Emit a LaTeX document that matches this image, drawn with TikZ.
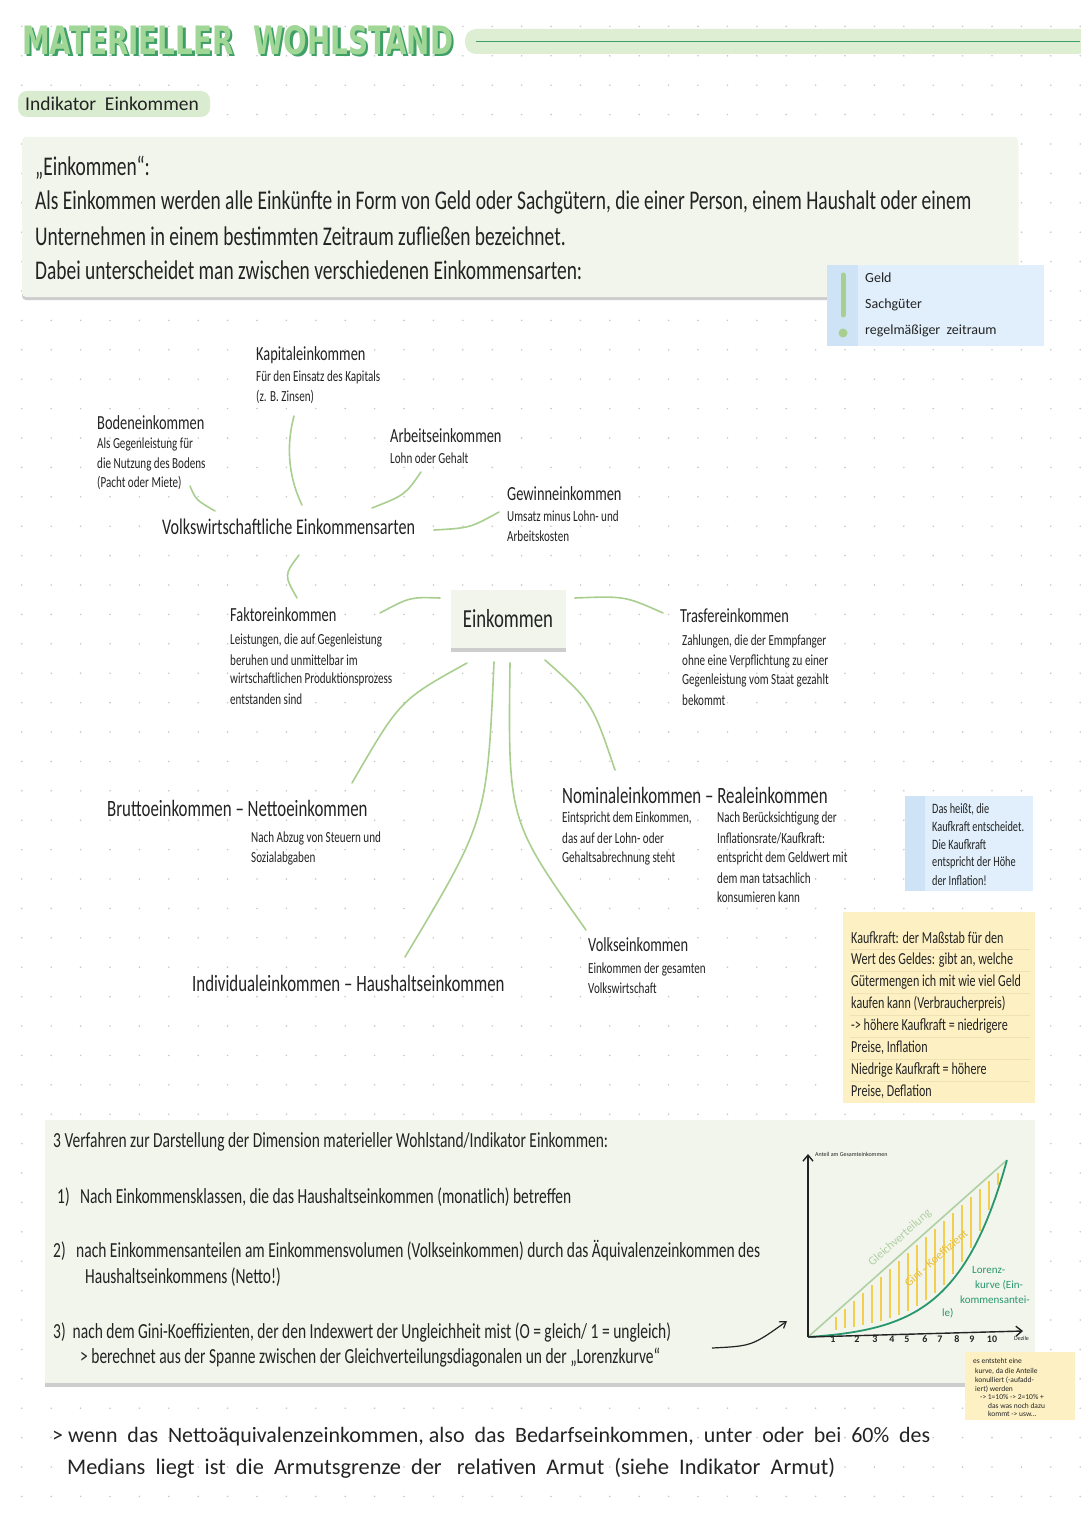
\documentclass[tikz,border=0pt]{standalone}
\usepackage{fontspec}
\usepackage{graphicx}
\setmainfont{Carlito}[FakeStretch=0.72]
\newfontfamily\plain{Carlito}
\newfontfamily\titlef{DejaVu Sans}[FakeStretch=0.8]
\usetikzlibrary{arrows.meta}
\definecolor{ink}{RGB}{35,35,35}
\definecolor{lgreen}{RGB}{169,207,143}
\definecolor{boxbg}{RGB}{242,245,236}
\definecolor{shadowc}{RGB}{205,205,205}
\definecolor{bluebg}{RGB}{224,239,251}
\definecolor{bluestrip}{RGB}{206,228,246}
\definecolor{yellowbg}{RGB}{253,241,196}
\definecolor{yellowline}{RGB}{240,226,178}
\definecolor{titlelight}{RGB}{160,214,150}
\definecolor{titledark}{RGB}{62,160,102}
\definecolor{bandc}{RGB}{221,238,211}
\definecolor{pillc}{RGB}{218,236,208}
\definecolor{lorenzc}{RGB}{40,150,110}
\definecolor{gleichc}{RGB}{176,208,164}
\definecolor{hatchc}{RGB}{244,206,80}
\definecolor{ginic}{RGB}{232,190,60}
\definecolor{dotc}{RGB}{200,200,200}
\newcommand\fsz[1]{\fontsize{#1}{#1}\selectfont}
\begin{document}
\begin{tikzpicture}[x=1pt,y=-1pt,
  lbl/.style={anchor=west, inner sep=0, text=ink},
  deftext/.style={lbl, font=\fsz{27}},
  head/.style={lbl, font=\fsz{20}},
  pairhead/.style={lbl, font=\fsz{23.4}},
  sub/.style={lbl, font=\fsz{15.4}},
  bnote/.style={lbl, font=\fsz{14.3}},
  ynote/.style={lbl, font=\fsz{16.8}},
  boxtext/.style={lbl, font=\fsz{21.5}},
  tiny/.style={lbl, font=\plain\fsz{7.5}},
  lzlab/.style={lbl, text=lorenzc, font=\plain\fsz{11}},
  con/.style={draw=lgreen, line width=1.6pt, line cap=round},
  declare function={lor(\t)=(exp(4*\t)-1)/(exp(4)-1);},
]
\useasboundingbox (0,0) rectangle (1080,1525);
\fill[white] (0,0) rectangle (1080,1525);
% dotted grid
\foreach \i in {0,...,36}{\foreach \j in {0,...,51}{\fill[dotc] (21.8+\i*29.4, 26.4+\j*29.4) circle (0.9);}}

% title
\fill[bandc, rounded corners=11] (465,29) rectangle (1095,54);
\draw[titledark, line width=1.6pt] (476,41.5) -- (1080,41.5);
\node[inner sep=0, anchor=west, text=titledark] (titleshadow) at (24.5,42.5) {\resizebox{431pt}{29pt}{\titlef\bfseries MATERIELLER\ \ WOHLSTAND}};
\node[inner sep=0, anchor=west, text=titlelight] (title) at (22,40) {\resizebox{431pt}{29pt}{\titlef\bfseries MATERIELLER\ \ WOHLSTAND}};

% pill
\fill[pillc, rounded corners=9] (18,91) rectangle (210,117);
\node[lbl, font=\plain\fsz{19.5}] (pill) at (25,104) {Indikator\ \ Einkommen};

% definition box
\fill[shadowc, rounded corners=4] (22,141) rectangle (1018,300);
\fill[boxbg, rounded corners=4] (22,137) rectangle (1018,297);
\node[deftext] (d1) at (35,168) {„Einkommen“:};
\node[deftext] (d2) at (35,202) {Als Einkommen werden alle Einkünfte in Form von Geld oder Sachgütern, die einer Person, einem Haushalt oder einem};
\node[deftext] (d3) at (35,236) {Unternehmen in einem bestimmten Zeitraum zufließen bezeichnet.};
\node[deftext] (d4) at (35,270) {Dabei unterscheidet man zwischen verschiedenen Einkommensarten:};

% legend box
\fill[bluebg] (827,265) rectangle (1044,346);
\fill[bluestrip] (827,265) rectangle (858,346);
\draw[lgreen, line width=5pt, line cap=round] (843,275) -- (843,315);
\fill[lgreen] (843,333) circle (4.5);
\node[lbl, font=\plain\fsz{14}] (lg1) at (865,278) {Geld};
\node[lbl, font=\plain\fsz{14}] (lg2) at (865,305) {Sachgüter};
\node[lbl, font=\plain\fsz{14}] (lg3) at (865,331) {regelmäßiger\ \ zeitraum};

% mind map upper
\node[head] (kap) at (256,355) {Kapitaleinkommen};
\node[sub] (kap1) at (256,377) {Für den Einsatz des Kapitals};
\node[sub] (kap2) at (256,397) {(z. B. Zinsen)};
\node[head] (bod) at (97,423) {Bodeneinkommen};
\node[sub] (bod1) at (97,444) {Als Gegenleistung für};
\node[sub] (bod2) at (97,464) {die Nutzung des Bodens};
\node[sub] (bod3) at (97,483) {(Pacht oder Miete)};
\node[head] (arb) at (390,436) {Arbeitseinkommen};
\node[sub] (arb1) at (390,458) {Lohn oder Gehalt};
\node[head] (gew) at (507,494) {Gewinneinkommen};
\node[sub] (gew1) at (507,516) {Umsatz minus Lohn- und};
\node[sub] (gew2) at (507,536) {Arbeitskosten};
\node[lbl, font=\fsz{22.4}] (vw) at (162,527) {Volkswirtschaftliche Einkommensarten};

% Faktor
\node[head] (fak) at (230,615) {Faktoreinkommen};
\node[sub] (fak1) at (230,640) {Leistungen, die auf Gegenleistung};
\node[sub] (fak2) at (230,660) {beruhen und unmittelbar im};
\node[sub] (fak3) at (230,679) {wirtschaftlichen Produktionsprozess};
\node[sub] (fak4) at (230,699) {entstanden sind};

% center
\fill[shadowc] (451,594) rectangle (566,652);
\fill[boxbg] (451,590) rectangle (566,648);
\node[inner sep=0, text=ink, font=\fsz{26}] (ein) at (508,619) {Einkommen};

% Transfer
\node[head] (tra) at (680,616) {Trasfereinkommen};
\node[sub] (tra1) at (682,641) {Zahlungen, die der Emmpfanger};
\node[sub] (tra2) at (682,661) {ohne eine Verpflichtung zu einer};
\node[sub] (tra3) at (682,680) {Gegenleistung vom Staat gezahlt};
\node[sub] (tra4) at (682,700) {bekommt};

% lower
\node[pairhead] (bru) at (107,808) {Bruttoeinkommen – Nettoeinkommen};
\node[sub] (bru1) at (251,838) {Nach Abzug von Steuern und};
\node[sub] (bru2) at (251,858) {Sozialabgaben};
\node[pairhead] (nom) at (562,795) {Nominaleinkommen – Realeinkommen};
\node[sub] (nom1) at (562,818) {Eintspricht dem Einkommen,};
\node[sub] (nom2) at (562,838) {das auf der Lohn- oder};
\node[sub] (nom3) at (562,858) {Gehaltsabrechnung steht};
\node[sub] (rea1) at (717,818) {Nach Berücksichtigung der};
\node[sub] (rea2) at (717,838) {Inflationsrate/Kaufkraft:};
\node[sub] (rea3) at (717,858) {entspricht dem Geldwert mit};
\node[sub] (rea4) at (717,878) {dem man tatsachlich};
\node[sub] (rea5) at (717,897) {konsumieren kann};
\node[head] (vol) at (588,945) {Volkseinkommen};
\node[sub] (vol1) at (588,969) {Einkommen der gesamten};
\node[sub] (vol2) at (588,988) {Volkswirtschaft};
\node[pairhead] (ind) at (192,983) {Individualeinkommen – Haushaltseinkommen};

% connectors
\coordinate (b1) at (190,486); \coordinate (b2) at (215,511);
\coordinate (k1) at (294,416); \coordinate (k2) at (302,505);
\coordinate (a1) at (421,472); \coordinate (a2) at (372,508);
\coordinate (g1) at (499,512); \coordinate (g2) at (434,530);
\coordinate (v1) at (299,555); \coordinate (v2) at (297,598);
\coordinate (f1) at (380,613); \coordinate (f2) at (440,598);
\coordinate (t1) at (575,598); \coordinate (t2) at (663,613);
\coordinate (br1) at (467,663); \coordinate (br2) at (352,783);
\coordinate (i1) at (494,662); \coordinate (i2) at (405,957);
\coordinate (vo1) at (510,663); \coordinate (vo2) at (586,930);
\coordinate (n1) at (545,660); \coordinate (n2) at (615,770);
\draw[con] (b1) .. controls (196,500) .. (b2);
\draw[con] (k1) .. controls (285,450) and (290,480) .. (k2);
\draw[con] (a1) .. controls (405,495) .. (a2);
\draw[con] (g1) .. controls (470,528) .. (g2);
\draw[con] (v1) .. controls (284,575) .. (v2);
\draw[con] (f1) .. controls (410,597) .. (f2);
\draw[con] (t1) .. controls (625,596) .. (t2);
\draw[con] (br1) .. controls (400,700) .. (br2);
\draw[con] (i1) .. controls (487,820) .. (i2);
\draw[con] (vo1) .. controls (508,820) .. (vo2);
\draw[con] (n1) .. controls (592,702) .. (n2);

% blue note
\fill[bluebg] (905,796) rectangle (1033,891);
\fill[bluestrip] (905,796) rectangle (925,891);
\node[bnote] (bn1) at (932,809) {Das heißt, die};
\node[bnote] (bn2) at (932,827) {Kaufkraft entscheidet.};
\node[bnote] (bn3) at (932,845) {Die Kaufkraft};
\node[bnote] (bn4) at (932,863) {entspricht der Höhe};
\node[bnote] (bn5) at (932,881) {der Inflation!};

% yellow note
\fill[yellowbg] (843,912) rectangle (1035,1103);
\foreach \yy in {949,971,993,1015,1037,1059,1081}{\draw[yellowline, line width=0.6pt] (850,\yy) -- (1030,\yy);}
\node[ynote] (y1) at (851,938) {Kaufkraft: der Maßstab für den};
\node[ynote] (y2) at (851,960) {Wert des Geldes: gibt an, welche};
\node[ynote] (y3) at (851,982) {Gütermengen ich mit wie viel Geld};
\node[ynote] (y4) at (851,1004) {kaufen kann (Verbraucherpreis)};
\node[ynote] (y5) at (851,1026) {-> höhere Kaufkraft = niedrigere};
\node[ynote] (y6) at (851,1048) {Preise, Inflation};
\node[ynote] (y7) at (851,1070) {Niedrige Kaufkraft = höhere};
\node[ynote] (y8) at (851,1092) {Preise, Deflation};

% bottom box
\fill[shadowc] (45,1124) rectangle (1035,1387);
\fill[boxbg] (45,1120) rectangle (1035,1383);
\node[boxtext] (bx0) at (53,1142) {3 Verfahren zur Darstellung der Dimension materieller Wohlstand/Indikator Einkommen:};
\node[boxtext] (bx1) at (57,1197) {1)\ \ \ Nach Einkommensklassen, die das Haushaltseinkommen (monatlich) betreffen};
\node[boxtext] (bx2) at (53,1251) {2)\ \ \ nach Einkommensanteilen am Einkommensvolumen (Volkseinkommen) durch das Äquivalenzeinkommen des};
\node[boxtext] (bx2b) at (85,1277) {Haushaltseinkommens (Netto!)};
\node[boxtext] (bx3) at (53,1332) {3)\ \ nach dem Gini-Koeffizienten, der den Indexwert der Ungleichheit mist (O = gleich/ 1 = ungleich)};
\node[boxtext] (bx3b) at (80,1358) {> berechnet aus der Spanne zwischen der Gleichverteilungsdiagonalen un der „Lorenzkurve“};
\coordinate (ar1) at (712,1348); \coordinate (ar2) at (787,1321);
\draw[ink, line width=1.2pt, -{Straight Barb[length=6pt,width=8pt]}] (ar1) .. controls (752,1346) .. (ar2);

% graph
\coordinate (orig) at (808,1337);
\coordinate (ytop) at (808,1154);
\coordinate (xend) at (1023,1331);
\coordinate (tr) at (1007,1160);
\foreach \xx in {818,827,...,1000}{
  \pgfmathsetmacro{\t}{(\xx-808)/199}
  \pgfmathsetmacro{\yd}{1337-177*\t+5}
  \pgfmathsetmacro{\yl}{1337-177*lor(\t)-5}
  \pgfmathparse{\yl-\yd>6 ? 1 : 0}
  \ifnum\pgfmathresult=1 \draw[hatchc, line width=1.3pt] (\xx,\yd) -- (\xx,\yl);\fi
}
\draw[gleichc, line width=1.6pt] (orig) -- (tr);
\draw[lorenzc, line width=1.8pt] plot[domain=0:1, samples=50, variable=\t] ({808+199*\t},{1337-177*lor(\t)});
\draw[ink, line width=1.4pt, -{Straight Barb[length=6pt,width=10pt]}] (orig) -- (ytop);
\draw[ink, line width=1.4pt, -{Straight Barb[length=6pt,width=10pt]}] (orig) -- (xend);
\node[tiny, font=\plain\fsz{6}] (ylab) at (815,1154) {Anteil am Gesamteinkommen};
\foreach \lab/\xx in {1/833,2/857,3/875,4/892,5/907,6/925,7/940,8/957,9/972,10/992}{
  \node[inner sep=0, text=ink, font=\plain\bfseries\fsz{10}] at (\xx,1339) {\lab};
}
\node[tiny, font=\plain\fsz{6}] (dez) at (1014,1338) {Dezile};
\node[inner sep=0, text=gleichc, rotate=41.6, font=\plain\fsz{12}] (gleich) at (900,1238) {Gleichverteilung};
\node[inner sep=0, text=ginic, rotate=41.6, font=\plain\fsz{12}] (gini) at (936,1258) {Gini - Koeffizient};
\node[lzlab] (lz1) at (972,1270) {Lorenz-};
\node[lzlab] (lz2) at (975,1285) {kurve (Ein-};
\node[lzlab] (lz3) at (960,1300) {kommensantei-};
\node[lzlab] (lz4) at (942,1313) {le)};

% small note
\fill[yellowbg] (965,1352) rectangle (1075,1420);
\node[tiny] (sn1) at (973,1361) {es entsteht eine};
\node[tiny] (sn2) at (975,1371) {kurve, da die Anteile};
\node[tiny] (sn3) at (975,1380) {konulliert (-aufadd-};
\node[tiny] (sn4) at (975,1389) {iert) werden};
\node[tiny] (sn5) at (980,1397) {-> 1=10\% -> 2=10\% +};
\node[tiny] (sn6) at (988,1406) {das was noch dazu};
\node[tiny] (sn7) at (988,1414) {kommt -> usw...};

% bottom text
\node[lbl, anchor=west] (bt1) at (52,1437) {\resizebox{878pt}{!}{\plain\fsz{18}> wenn\ \ das\ \ Nettoäquivalenzeinkommen,\ also\ \ das\ \ Bedarfseinkommen,\ \ unter\ \ oder\ \ bei\ \ 60\%\ \ des}};
\node[lbl, anchor=west] (bt2) at (67,1468) {\resizebox{768pt}{!}{\plain\fsz{18}Medians\ \ liegt\ \ ist\ \ die\ \ Armutsgrenze\ \ der\ \ \ relativen\ \ Armut\ \ (siehe\ \ Indikator\ \ Armut)}};
\end{tikzpicture}
\end{document}
